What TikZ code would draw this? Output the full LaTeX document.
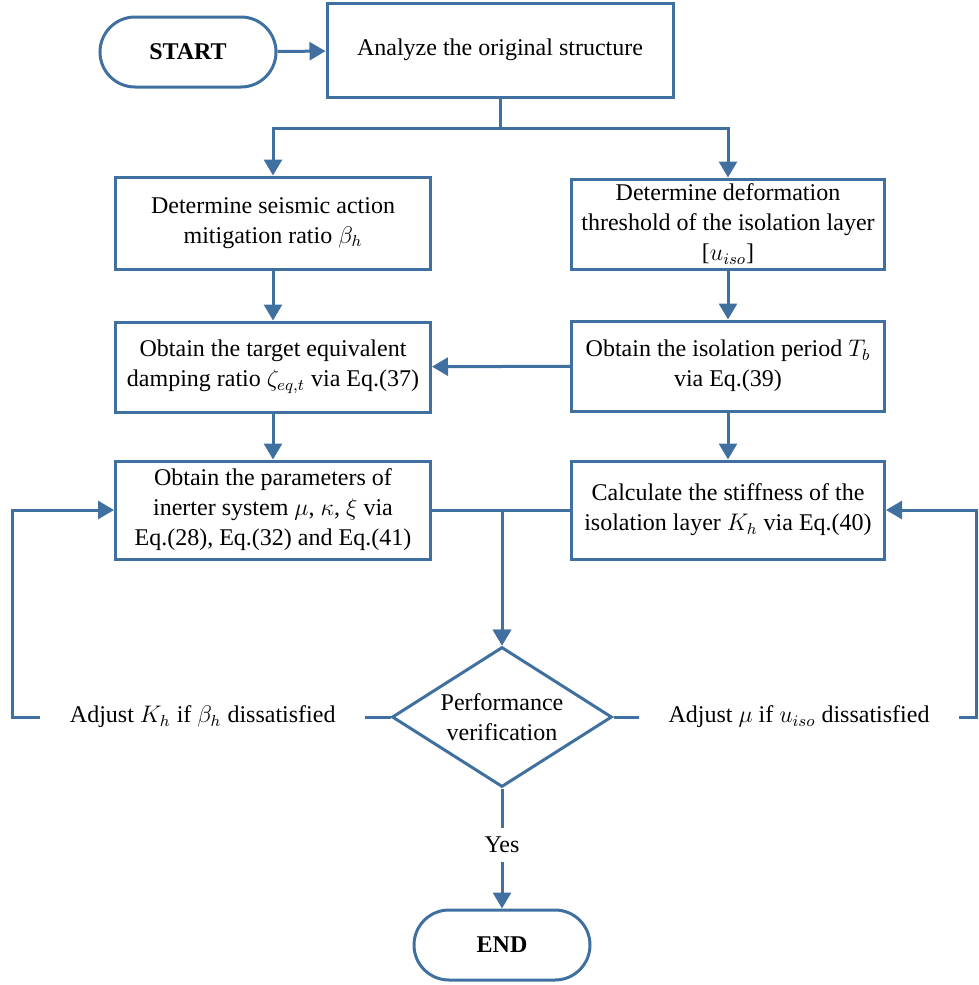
\documentclass[tikz,border=0pt]{standalone}
\usepackage{amsmath}
\usepackage{fontspec}
\setmainfont{Liberation Serif}
\usepackage{tikz}
\usetikzlibrary{shapes.geometric,arrows.meta,positioning,calc}
\definecolor{flowblue}{RGB}{64,112,160}

\begin{document}
\begin{tikzpicture}[
      x=0.5pt, y=-0.5pt,
      font=\fontsize{12}{15}\selectfont,
      line width=1.5pt, flowblue,
      block/.style={rectangle, draw=flowblue, text=black, align=center, minimum width=157.5pt, minimum height=46pt, inner sep=2pt},
      terminal/.style={rectangle, draw=flowblue, text=black, rounded corners=17.5pt, minimum width=88pt, minimum height=35pt, font=\fontsize{12}{15}\selectfont\bfseries},
      decision/.style={diamond, draw=flowblue, text=black, align=center, aspect=1.57, minimum width=110pt, minimum height=70pt, inner sep=0pt},
      note/.style={text=black, inner xsep=14pt, inner ysep=4pt},
      arrow/.style={-{Triangle[length=8pt,width=9pt]}}
    ]
      \useasboundingbox (0,0) rectangle (979,985);

      % Start and first step
      \node[terminal] (start) at (188,52) {START};
      \node[block, minimum width=173pt, minimum height=47pt] (analyze) at (500,50) {Analyze the original structure};

      % Left column
      \node[block] (ratio) at (273,223) {Determine seismic action\\mitigation ratio $\beta_h$};
      \node[block, minimum height=45pt] (damping) at (273,367) {Obtain the target equivalent\\damping ratio $\zeta_{eq,t}$ via Eq.(37)};
      \node[block, minimum height=49pt] (params) at (273,510) {Obtain the parameters of\\inerter system $\mu$, $\kappa$, $\xi$ via\\Eq.(28), Eq.(32) and Eq.(41)};

      % Right column
      \node[block, minimum width=156.5pt, minimum height=45pt] (thresh) at (728,224) {Determine deformation\\threshold of the isolation layer\\{}[$u_{iso}$]};
      \node[block, minimum width=156.5pt, minimum height=45pt] (period) at (728,366) {Obtain the isolation period $T_b$\\via Eq.(39)};
      \node[block, minimum width=156.5pt, minimum height=49pt] (stiff) at (728,510) {Calculate the stiffness of the\\isolation layer $K_h$ via Eq.(40)};

      % Verification and end
      \node[decision] (verify) at (502,717) {Performance\\verification};
      \node[terminal] (finish) at (502,945) {END};

      % Labels on the loops
      \node[note, anchor=east] (adjK) at (365,717) {Adjust $K_h$ if $\beta_h$ dissatisfied};
      \node[note, anchor=west] (adjMu) at (639,717) {Adjust $\mu$ if $u_{iso}$ dissatisfied};
      \node[note] (yes) at (502,845) {Yes};

      \coordinate (split) at (500,128);
      \coordinate (lcorner) at (12,510);
      \coordinate (rcorner) at (976,510);

      % Arrows
      \draw[arrow] (start) -- (analyze);
      \draw (analyze.south) -- (split);
      \draw[arrow] (split) -| (ratio.north);
      \draw[arrow] (split) -| (thresh.north);
      \draw[arrow] (ratio) -- (damping);
      \draw[arrow] (thresh) -- (period);
      \draw[arrow] (period) -- (damping);
      \draw[arrow] (damping) -- (params);
      \draw[arrow] (period) -- (stiff);
      \draw[arrow] (params.east) -| (verify.north);
      \draw[arrow] (stiff.west) -| (verify.north);
      \draw (verify.south) -- (yes);
      \draw[arrow] (yes) -- (finish);

      % Feedback loops
      \draw (verify.west) -- (adjK.east);
      \draw[arrow] (adjK.west) -| (lcorner) -- (params.west);
      \draw (verify.east) -- (adjMu.west);
      \draw[arrow] (adjMu.east) -| (rcorner) -- (stiff.east);
    \end{tikzpicture}
\end{document}
